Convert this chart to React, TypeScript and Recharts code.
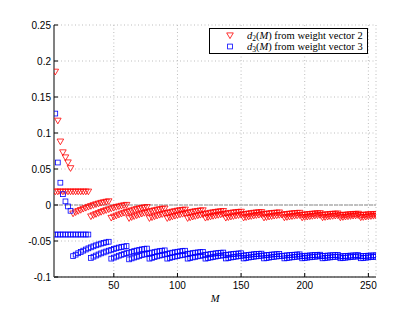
import { ScatterChart, Scatter, XAxis, YAxis, CartesianGrid, ReferenceLine, Label } from "recharts";

// M values of the first few points (step 2)
const earlyM = [4, 6, 8, 10, 12, 14, 16];
const flatM = [4, 6, 8, 10, 12, 14, 16, 18, 20, 22, 24, 26, 28, 30];

const redDecay = [0.185, 0.117, 0.088, 0.073, 0.066, 0.059, 0.051];
const redFlat = [0.0185, 0.0185, 0.0185, 0.0185, 0.0185, 0.0185, 0.0185, 0.0185, 0.0185, 0.0185, 0.0185, 0.0185, 0.0185, 0.0185];
const blueDecay = [0.127, 0.059, 0.031, 0.015, 0.005, -0.002, -0.008];
const blueFlat = [-0.041, -0.041, -0.041, -0.041, -0.041, -0.041, -0.041, -0.041, -0.041, -0.041, -0.041, -0.041, -0.041, -0.041];

// first M of each sawtooth run (each run steps M by 2)
const segStarts = [18, 32, 48, 62, 78, 92, 108, 122, 138, 152, 168, 184, 198, 214, 228, 244];

const redSegs = [
  [-0.012, -0.0103, -0.0086, -0.0071, -0.0055, -0.0042, -0.0028, -0.0016, -0.0004, 0.0008, 0.0018, 0.0028, 0.0036, 0.0043, 0.005],
  [-0.016, -0.0144, -0.0128, -0.0114, -0.0099, -0.0086, -0.0074, -0.0062, -0.0051, -0.004, -0.003, -0.0021, -0.0013, -0.0006, 0.0],
  [-0.018, -0.0165, -0.015, -0.0136, -0.0123, -0.0111, -0.0099, -0.0088, -0.0078, -0.0067, -0.0058, -0.0049, -0.0042, -0.0036, -0.003],
  [-0.0185, -0.0171, -0.0158, -0.0146, -0.0134, -0.0123, -0.0112, -0.0103, -0.0093, -0.0084, -0.0076, -0.0068, -0.0061, -0.0055, -0.005],
  [-0.0185, -0.0173, -0.0161, -0.015, -0.0139, -0.013, -0.012, -0.0112, -0.0103, -0.0095, -0.0088, -0.0081, -0.0075, -0.007, -0.0065],
  [-0.0185, -0.0174, -0.0163, -0.0153, -0.0143, -0.0134, -0.0126, -0.0118, -0.011, -0.0102, -0.0096, -0.0089, -0.0084, -0.0079, -0.0075],
  [-0.0185, -0.0175, -0.0165, -0.0156, -0.0147, -0.0139, -0.0131, -0.0124, -0.0117, -0.011, -0.0104, -0.0098, -0.0093, -0.0089, -0.0085],
  [-0.018, -0.0171, -0.0163, -0.0155, -0.0148, -0.0141, -0.0134, -0.0128, -0.0122, -0.0116, -0.0111, -0.0106, -0.0102, -0.0098, -0.0095],
  [-0.018, -0.0172, -0.0164, -0.0157, -0.015, -0.0143, -0.0137, -0.0131, -0.0126, -0.012, -0.0115, -0.011, -0.0106, -0.0103, -0.01],
  [-0.0178, -0.0171, -0.0163, -0.0157, -0.015, -0.0144, -0.0139, -0.0133, -0.0128, -0.0123, -0.0119, -0.0114, -0.0111, -0.0108, -0.0105],
  [-0.0178, -0.0171, -0.0164, -0.0158, -0.0152, -0.0147, -0.0141, -0.0137, -0.0132, -0.0127, -0.0123, -0.0119, -0.0115, -0.0113, -0.011],
  [-0.0176, -0.017, -0.0164, -0.0158, -0.0153, -0.0148, -0.0143, -0.0139, -0.0135, -0.013, -0.0127, -0.0123, -0.012, -0.0117, -0.0115],
  [-0.0176, -0.017, -0.0165, -0.016, -0.0155, -0.015, -0.0146, -0.0142, -0.0138, -0.0134, -0.0131, -0.0127, -0.0124, -0.0122, -0.012],
  [-0.0175, -0.017, -0.0165, -0.016, -0.0155, -0.0151, -0.0147, -0.0143, -0.014, -0.0136, -0.0133, -0.013, -0.0127, -0.0125, -0.0123],
  [-0.0175, -0.017, -0.0165, -0.0161, -0.0156, -0.0152, -0.0149, -0.0145, -0.0142, -0.0138, -0.0135, -0.0132, -0.013, -0.0128, -0.0126],
  [-0.0174, -0.017, -0.0165, -0.0161, -0.0157, -0.0153, -0.015],
];

const blueSegs = [
  [-0.071, -0.069, -0.067, -0.0652, -0.0634, -0.0618, -0.0602, -0.0588, -0.0574, -0.056, -0.0548, -0.0536, -0.0526, -0.0518, -0.051],
  [-0.0735, -0.0718, -0.0702, -0.0687, -0.0672, -0.0659, -0.0646, -0.0634, -0.0623, -0.0611, -0.0601, -0.0591, -0.0583, -0.0577, -0.057],
  [-0.0745, -0.0731, -0.0717, -0.0704, -0.0692, -0.0681, -0.0669, -0.066, -0.065, -0.064, -0.0632, -0.0623, -0.0616, -0.0611, -0.0605],
  [-0.0755, -0.0742, -0.073, -0.0719, -0.0707, -0.0697, -0.0687, -0.0679, -0.067, -0.0661, -0.0654, -0.0646, -0.064, -0.0635, -0.063],
  [-0.0745, -0.0734, -0.0723, -0.0713, -0.0703, -0.0694, -0.0686, -0.0678, -0.067, -0.0662, -0.0656, -0.0649, -0.0644, -0.0639, -0.0635],
  [-0.0745, -0.0735, -0.0726, -0.0717, -0.0709, -0.0701, -0.0694, -0.0687, -0.068, -0.0674, -0.0668, -0.0662, -0.0658, -0.0654, -0.065],
  [-0.0745, -0.0736, -0.0728, -0.072, -0.0713, -0.0706, -0.0699, -0.0693, -0.0687, -0.0681, -0.0676, -0.0671, -0.0667, -0.0663, -0.066],
  [-0.0745, -0.0737, -0.073, -0.0723, -0.0716, -0.071, -0.0704, -0.0699, -0.0694, -0.0689, -0.0684, -0.068, -0.0676, -0.0673, -0.067],
  [-0.0743, -0.0736, -0.0729, -0.0723, -0.0717, -0.0712, -0.0706, -0.0702, -0.0697, -0.0692, -0.0688, -0.0684, -0.068, -0.0678, -0.0675],
  [-0.0743, -0.0737, -0.073, -0.0725, -0.0719, -0.0714, -0.0709, -0.0705, -0.07, -0.0696, -0.0692, -0.0688, -0.0685, -0.0683, -0.068],
  [-0.0742, -0.0736, -0.0731, -0.0725, -0.072, -0.0716, -0.0711, -0.0707, -0.0703, -0.0699, -0.0696, -0.0692, -0.069, -0.0687, -0.0685],
  [-0.0742, -0.0737, -0.0732, -0.0727, -0.0722, -0.0718, -0.0714, -0.071, -0.0707, -0.0703, -0.07, -0.0697, -0.0694, -0.0692, -0.069],
  [-0.0741, -0.0736, -0.0731, -0.0727, -0.0723, -0.0719, -0.0715, -0.0712, -0.0708, -0.0705, -0.0702, -0.0699, -0.0697, -0.0695, -0.0693],
  [-0.0741, -0.0736, -0.0732, -0.0728, -0.0724, -0.072, -0.0717, -0.0714, -0.071, -0.0707, -0.0705, -0.0702, -0.07, -0.0698, -0.0696],
  [-0.074, -0.0736, -0.0732, -0.0728, -0.0724, -0.072, -0.0717, -0.0714, -0.0711, -0.0708, -0.0706, -0.0703, -0.0701, -0.07, -0.0698],
  [-0.074, -0.0736, -0.0732, -0.0728, -0.0725, -0.0721, -0.0718],
];

const xTicks = [50, 100, 150, 200, 250];
const yTicks = [-0.1, -0.05, 0, 0.05, 0.1, 0.15, 0.2, 0.25];

const RED = "#ff0000";
const BLUE = "#0000ff";

type Pt = { m: number; v: number };

function toPoints(ms: number[], vals: number[]): Pt[] {
  return vals.map((v, i) => ({ m: ms[i], v }));
}

function segPoints(segs: number[][]): Pt[] {
  return segs.flatMap((vals, k) => vals.map((v, i) => ({ m: segStarts[k] + 2 * i, v })));
}

const redData = [...toPoints(earlyM, redDecay), ...toPoints(flatM, redFlat), ...segPoints(redSegs)];
const blueData = [...toPoints(earlyM, blueDecay), ...toPoints(flatM, blueFlat), ...segPoints(blueSegs)];

const TriangleDown = (props: any) => {
  const { cx, cy } = props;
  if (cx == null || cy == null) return <g />;
  return (
    <polygon
      points={`${cx - 3.3},${cy - 2.6} ${cx + 3.3},${cy - 2.6} ${cx},${cy + 3.1}`}
      fill="none"
      stroke={RED}
      strokeWidth={0.8}
    />
  );
};

const Square = (props: any) => {
  const { cx, cy } = props;
  if (cx == null || cy == null) return <g />;
  return <rect x={cx - 2.4} y={cy - 2.4} width={4.8} height={4.8} fill="none" stroke={BLUE} strokeWidth={0.8} />;
};

const tickStyle = { fontFamily: '"Liberation Sans", Arial, sans-serif', fontSize: 10, fill: "#000" };

function LegendRow({ marker, sub, top }: { marker: "tri" | "sq"; sub: string; top: number }) {
  return (
    <div style={{ position: "absolute", left: 0, top, height: 11, width: "100%", lineHeight: "11px", whiteSpace: "nowrap" }}>
      <svg width={12} height={11} style={{ position: "absolute", left: 14, top: 0 }}>
        {marker === "tri" ? (
          <polygon points="2.7,2.9 9.3,2.9 6,8.6" fill="none" stroke={RED} strokeWidth={0.8} />
        ) : (
          <rect x={3.6} y={3.1} width={4.8} height={4.8} fill="none" stroke={BLUE} strokeWidth={0.8} />
        )}
      </svg>
      <span style={{ position: "absolute", left: 37 }}>
        <i>d</i>
        <span style={{ fontSize: 7.5, position: "relative", top: 2 }}>{sub}</span>(<i>M</i>) from weight vector {sub}
      </span>
    </div>
  );
}

export default function App() {
  return (
    <div style={{ position: "absolute", left: 0, top: 0, width: 415, height: 312, background: "#fff" }}>
      <ScatterChart width={415} height={312} margin={{ top: 25, right: 39, bottom: 0, left: 0 }}>
        <CartesianGrid stroke="#bdbdbd" strokeDasharray="1 2.5" />
        <XAxis
          type="number"
          dataKey="m"
          domain={[3, 256]}
          ticks={xTicks}
          height={35}
          tickSize={-4}
          tickMargin={9}
          tick={tickStyle}
          stroke="#000"
          allowDataOverflow
        >
          <Label
            value="M"
            position="insideBottom"
            offset={10}
            style={{ fontFamily: '"Liberation Serif", serif', fontStyle: "italic", fontSize: 10.5, fill: "#000" }}
          />
        </XAxis>
        <XAxis
          xAxisId="top"
          orientation="top"
          type="number"
          domain={[3, 256]}
          ticks={xTicks}
          height={0}
          tickSize={-4}
          tick={false}
          stroke="#000"
          allowDataOverflow
        />
        <YAxis
          type="number"
          dataKey="v"
          domain={[-0.1, 0.25]}
          ticks={yTicks}
          width={54}
          tickSize={-4}
          tickMargin={7}
          tick={tickStyle}
          axisLine={{ stroke: "#808080", strokeWidth: 2 }}
          tickLine={{ stroke: "#000" }}
          allowDataOverflow
        />
        <YAxis
          yAxisId="right"
          orientation="right"
          type="number"
          domain={[-0.1, 0.25]}
          ticks={yTicks}
          width={0}
          tickSize={-4}
          tick={false}
          stroke="#000"
          allowDataOverflow
        />
        <ReferenceLine y={0} stroke="#b0b0b0" strokeWidth={1.5} strokeDasharray="4 1" />
        <Scatter data={redData} shape={TriangleDown} isAnimationActive={false} />
        <Scatter data={blueData} shape={Square} isAnimationActive={false} />
      </ScatterChart>
      <div
        style={{
          position: "absolute",
          left: 209,
          top: 28,
          width: 159,
          height: 26,
          boxSizing: "border-box",
          border: "1px solid #000",
          background: "#fff",
          fontFamily: '"Liberation Serif", "Times New Roman", serif',
          fontSize: 10.5,
          color: "#000",
        }}
      >
        <LegendRow marker="tri" sub="2" top={1} />
        <LegendRow marker="sq" sub="3" top={12} />
      </div>
    </div>
  );
}
